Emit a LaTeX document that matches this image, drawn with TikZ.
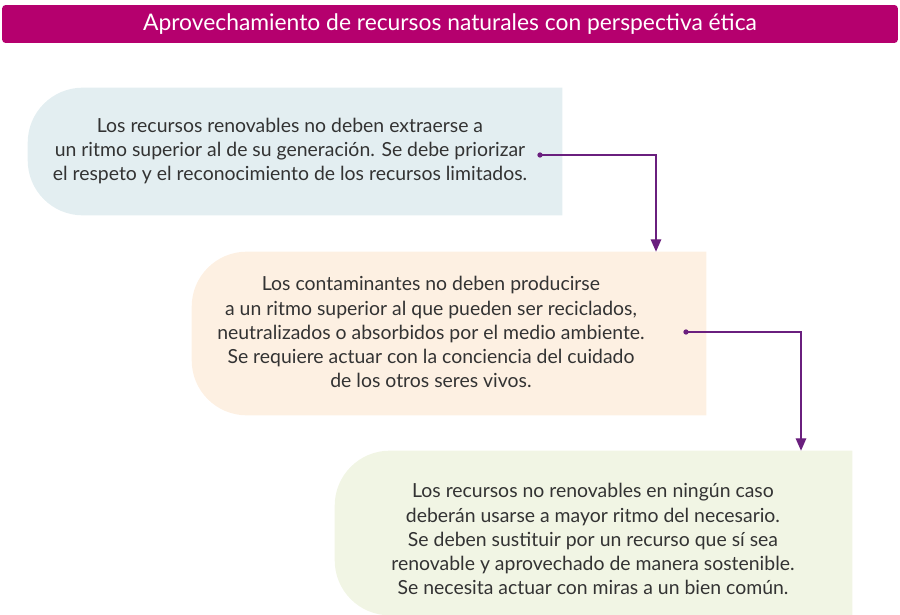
\documentclass[tikz,border=0pt]{standalone}
\usepackage{fontspec}
\setmainfont{Lato}
\usepackage{tikz}
\usetikzlibrary{arrows.meta, backgrounds}
\definecolor{titlebar}{HTML}{B5006E}
\definecolor{bluebg}{HTML}{E3EEF1}
\definecolor{peachbg}{HTML}{FDF0E2}
\definecolor{greenbg}{HTML}{F1F5E4}
\definecolor{linkcol}{HTML}{6A1F7E}
\definecolor{textcol}{HTML}{333333}

\begin{document}
\begin{tikzpicture}[x=0.02cm, y=-0.02cm]
\tikzstyle{box}=[rectangle, inner sep=0pt]
\tikzstyle{txt}=[align=center, text=textcol, font=\fontsize{11.05}{13.7}\selectfont]
\tikzstyle{link}=[draw=linkcol, line width=0.7pt, -{Triangle[width=6pt, length=7pt]}]
\tikzstyle{dot}=[circle, fill=linkcol, inner sep=0pt, minimum size=3pt]
\useasboundingbox (0,0) rectangle (900,615);

% title
\node[box, fill=titlebar, rounded corners=2pt, minimum width=17.92cm, minimum height=0.76cm,
  text=white, font=\fontsize{13}{15}\selectfont] (title) at (450,24)
  {Aprovechamiento de recursos naturales con perspectiva ética};

% boxes
\node[box, minimum width=10.68cm, minimum height=2.54cm] (b1) at (295,151.5) {};
\node[box, minimum width=10.28cm, minimum height=3.26cm] (b2) at (449,333.5) {};
\node[box, minimum width=10.34cm, minimum height=3.28cm] (b3) at (593.5,533) {};

\begin{pgfonlayer}{background}
\fill[bluebg] (b1.north east) [rounded corners=1.1cm] -- (b1.north west) -- (b1.south west)
  [sharp corners] -- (b1.south east) -- cycle;
\fill[peachbg] (b2.north east) [rounded corners=1.1cm] -- (b2.north west) -- (b2.south west)
  [sharp corners] -- (b2.south east) -- cycle;
\fill[greenbg] (b3.north east) [rounded corners=1.1cm] -- (b3.north west) -- (b3.south west)
  [sharp corners] -- (b3.south east) -- cycle;
\end{pgfonlayer}

\node[txt] (t1) at (290,151) {Los recursos renovables no deben extraerse a\\
  un ritmo superior al de su generación. Se debe priorizar\\
  el respeto y el reconocimiento de los recursos limitados.};
\node[txt] (t2) at (431,332) {Los contaminantes no deben producirse\\
  a un ritmo superior al que pueden ser reciclados,\\
  neutralizados o absorbidos por el medio ambiente.\\
  Se requiere actuar con la conciencia del cuidado\\
  de los otros seres vivos.};
\node[txt] (t3) at (593,539) {Los recursos no renovables en ningún caso\\
  deberán usarse a mayor ritmo del necesario.\\
  Se deben sustituir por un recurso que sí sea\\
  renovable y aprovechado de manera sostenible.\\
  Se necesita actuar con miras a un bien común.};

% connectors
\node[dot] (d1) at (540,155) {};
\node[dot] (d2) at (686,332) {};
\coordinate (e1) at (b2.north -| 656,0);
\coordinate (e2) at (b3.north -| 801,0);
\path[link] (d1.center) -| (e1);
\path[link] (d2.center) -| (e2);
\end{tikzpicture}
\end{document}
